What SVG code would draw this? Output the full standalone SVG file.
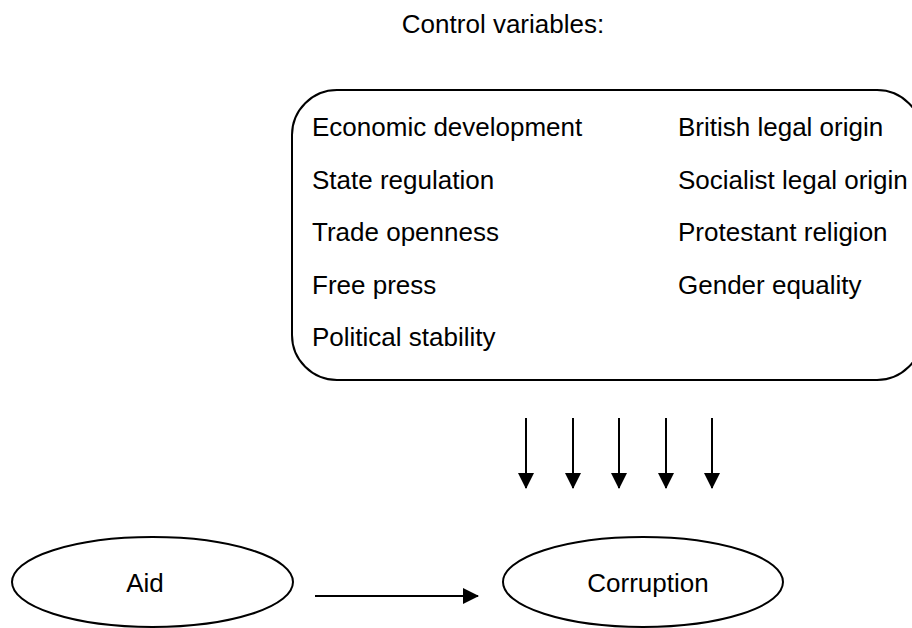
<svg xmlns="http://www.w3.org/2000/svg" width="912" height="628" viewBox="0 0 912 628">
<style>
text{font-family:"Liberation Sans",Arial,sans-serif;font-size:26px;fill:#000}
.shape{fill:#fff;stroke:#000;stroke-width:2}
.conn{stroke:#000;stroke-width:2;fill:none}
</style>
<defs>
<marker id="ah" markerWidth="16" markerHeight="16" viewBox="0 0 16 16" refX="15" refY="8" orient="auto" markerUnits="userSpaceOnUse">
<path d="M0,0 L16,8 L0,16 Z" fill="#000"/>
</marker>
</defs>
<rect width="912" height="628" fill="#fff"/>
<text x="503" y="33" text-anchor="middle">Control variables:</text>
<g id="controls">
<rect class="shape" x="292" y="90" width="630" height="290" rx="45" ry="45"/>
<text x="312" y="136">Economic development</text>
<text x="312" y="188.5">State regulation</text>
<text x="312" y="241">Trade openness</text>
<text x="312" y="293.5">Free press</text>
<text x="312" y="346">Political stability</text>
<text x="678" y="136">British legal origin</text>
<text x="678" y="188.5">Socialist legal origin</text>
<text x="678" y="241">Protestant religion</text>
<text x="678" y="293.5">Gender equality</text>
</g>
<g id="aid">
<ellipse class="shape" cx="152.5" cy="582" rx="140.5" ry="45"/>
<text x="145" y="592" text-anchor="middle">Aid</text>
</g>
<g id="corruption">
<ellipse class="shape" cx="643" cy="582" rx="140" ry="45"/>
<text x="648" y="592" text-anchor="middle">Corruption</text>
</g>
<g id="connectors">
<line class="conn" x1="526" y1="418" x2="526" y2="488" marker-end="url(#ah)"/>
<line class="conn" x1="573" y1="418" x2="573" y2="488" marker-end="url(#ah)"/>
<line class="conn" x1="619" y1="418" x2="619" y2="488" marker-end="url(#ah)"/>
<line class="conn" x1="666" y1="418" x2="666" y2="488" marker-end="url(#ah)"/>
<line class="conn" x1="712" y1="418" x2="712" y2="488" marker-end="url(#ah)"/>
<line class="conn" x1="315" y1="596" x2="478" y2="596" marker-end="url(#ah)"/>
</g>
</svg>
